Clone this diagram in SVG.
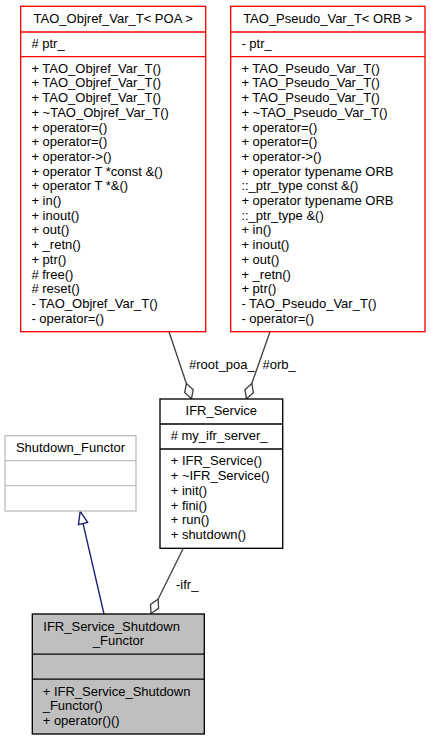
<svg xmlns="http://www.w3.org/2000/svg" width="431" height="741" viewBox="0 0 431 741">
<style>
text{font-family:"Liberation Sans",Arial,Helvetica,sans-serif;font-size:13px;fill:#000}
.c{text-anchor:middle}
.box{fill:#fff;stroke-width:1.33}
.red{stroke:#ff0000}
.blk{stroke:#000}
.gry{stroke:#bfbfbf}
.agg{stroke:#404040;stroke-width:1.33;fill:none;marker-end:url(#dia)}
.inh{stroke:#191970;stroke-width:1.33;fill:none;marker-end:url(#tri)}
</style>
<defs>
<marker id="dia" markerUnits="userSpaceOnUse" viewBox="-18 -6 20 12" refX="0" refY="0" markerWidth="20" markerHeight="12" orient="auto" overflow="visible">
<path d="M0,0 L-8,-4.5 L-16,0 L-8,4.5 Z" fill="#fff" stroke="#404040" stroke-width="1.33"/>
</marker>
<marker id="tri" markerUnits="userSpaceOnUse" viewBox="-14 -6 16 12" refX="0" refY="0" markerWidth="16" markerHeight="12" orient="auto" overflow="visible">
<path d="M0,0 L-12.5,-4.7 L-12.5,4.7 Z" fill="#fff" stroke="#191970" stroke-width="1.33"/>
</marker>
</defs>
<rect width="431" height="741" fill="#fff"/>
<g id="connectors">
<path class="agg" d="M169,331.7 L191.5,398.7"/>
<text x="189" y="368.5">#root_poa_</text>
<path class="agg" d="M270,331.7 L246.5,398.7"/>
<text x="262.5" y="368.5">#orb_</text>
<path class="agg" d="M183.3,548.3 L151,613.5"/>
<text x="176" y="588.5">-ifr_</text>
<path class="inh" d="M104,614 L80.2,511.3"/>
</g>
<g id="TAO_Objref_Var_T_POA">
<rect class="box red" x="20.7" y="6.3" width="185" height="325.4"/>
<line class="red" stroke-width="1.33" x1="20.7" y1="32" x2="205.7" y2="32"/>
<line class="red" stroke-width="1.33" x1="20.7" y1="56.7" x2="205.7" y2="56.7"/>
<text class="c" x="113.2" y="22.7">TAO_Objref_Var_T&lt; POA &gt;</text>
<text x="31.4" y="47.7"># ptr_</text>
<text x="31.4" y="72.7">+ TAO_Objref_Var_T()</text>
<text x="31.4" y="87.4">+ TAO_Objref_Var_T()</text>
<text x="31.4" y="102.1">+ TAO_Objref_Var_T()</text>
<text x="31.4" y="116.8">+ ~TAO_Objref_Var_T()</text>
<text x="31.4" y="131.5">+ operator=()</text>
<text x="31.4" y="146.2">+ operator=()</text>
<text x="31.4" y="160.9">+ operator-&gt;()</text>
<text x="31.4" y="175.6">+ operator T *const &amp;()</text>
<text x="31.4" y="190.3">+ operator T *&amp;()</text>
<text x="31.4" y="205">+ in()</text>
<text x="31.4" y="219.7">+ inout()</text>
<text x="31.4" y="234.4">+ out()</text>
<text x="31.4" y="249.1">+ _retn()</text>
<text x="31.4" y="263.8">+ ptr()</text>
<text x="31.4" y="278.5"># free()</text>
<text x="31.4" y="293.2"># reset()</text>
<text x="31.4" y="307.9">- TAO_Objref_Var_T()</text>
<text x="31.4" y="322.6">- operator=()</text>
</g>
<g id="TAO_Pseudo_Var_T_ORB">
<rect class="box red" x="230.7" y="6.3" width="194.3" height="325.4"/>
<line class="red" stroke-width="1.33" x1="230.7" y1="32" x2="425" y2="32"/>
<line class="red" stroke-width="1.33" x1="230.7" y1="56.7" x2="425" y2="56.7"/>
<text class="c" x="327.8" y="22.7">TAO_Pseudo_Var_T&lt; ORB &gt;</text>
<text x="241.4" y="47.7">- ptr_</text>
<text x="241.4" y="72.7">+ TAO_Pseudo_Var_T()</text>
<text x="241.4" y="87.4">+ TAO_Pseudo_Var_T()</text>
<text x="241.4" y="102.1">+ TAO_Pseudo_Var_T()</text>
<text x="241.4" y="116.8">+ ~TAO_Pseudo_Var_T()</text>
<text x="241.4" y="131.5">+ operator=()</text>
<text x="241.4" y="146.2">+ operator=()</text>
<text x="241.4" y="160.9">+ operator-&gt;()</text>
<text x="241.4" y="175.6">+ operator typename ORB</text>
<text x="241.4" y="190.3">::_ptr_type const &amp;()</text>
<text x="241.4" y="205">+ operator typename ORB</text>
<text x="241.4" y="219.7">::_ptr_type &amp;()</text>
<text x="241.4" y="234.4">+ in()</text>
<text x="241.4" y="249.1">+ inout()</text>
<text x="241.4" y="263.8">+ out()</text>
<text x="241.4" y="278.5">+ _retn()</text>
<text x="241.4" y="293.2">+ ptr()</text>
<text x="241.4" y="307.9">- TAO_Pseudo_Var_T()</text>
<text x="241.4" y="322.6">- operator=()</text>
</g>
<g id="IFR_Service">
<rect class="box blk" x="160" y="399" width="122.7" height="149.3"/>
<line class="blk" stroke-width="1.33" x1="160" y1="424" x2="282.7" y2="424"/>
<line class="blk" stroke-width="1.33" x1="160" y1="449" x2="282.7" y2="449"/>
<text class="c" x="221.3" y="415">IFR_Service</text>
<text x="170.7" y="440.4"># my_ifr_server_</text>
<text x="170.7" y="465.4">+ IFR_Service()</text>
<text x="170.7" y="480.1">+ ~IFR_Service()</text>
<text x="170.7" y="494.8">+ init()</text>
<text x="170.7" y="509.5">+ fini()</text>
<text x="170.7" y="524.2">+ run()</text>
<text x="170.7" y="538.9">+ shutdown()</text>
</g>
<g id="Shutdown_Functor">
<rect class="box gry" x="5" y="435.7" width="131" height="75.3"/>
<line class="gry" stroke-width="1.33" x1="5" y1="460.7" x2="136" y2="460.7"/>
<line class="gry" stroke-width="1.33" x1="5" y1="485.7" x2="136" y2="485.7"/>
<text class="c" x="70.5" y="452">Shutdown_Functor</text>
</g>
<g id="IFR_Service_Shutdown_Functor">
<rect x="32.3" y="614" width="172" height="120" fill="#bfbfbf" stroke="#000" stroke-width="1.33"/>
<line class="blk" stroke-width="1.33" x1="32.3" y1="654.2" x2="204.3" y2="654.2"/>
<line class="blk" stroke-width="1.33" x1="32.3" y1="679.2" x2="204.3" y2="679.2"/>
<text x="43.3" y="630.6">IFR_Service_Shutdown</text>
<text class="c" x="118.5" y="645.3">_Functor</text>
<text x="42.7" y="695.6">+ IFR_Service_Shutdown</text>
<text x="42.7" y="710.3">_Functor()</text>
<text x="42.7" y="725">+ operator()()</text>
</g>
</svg>
